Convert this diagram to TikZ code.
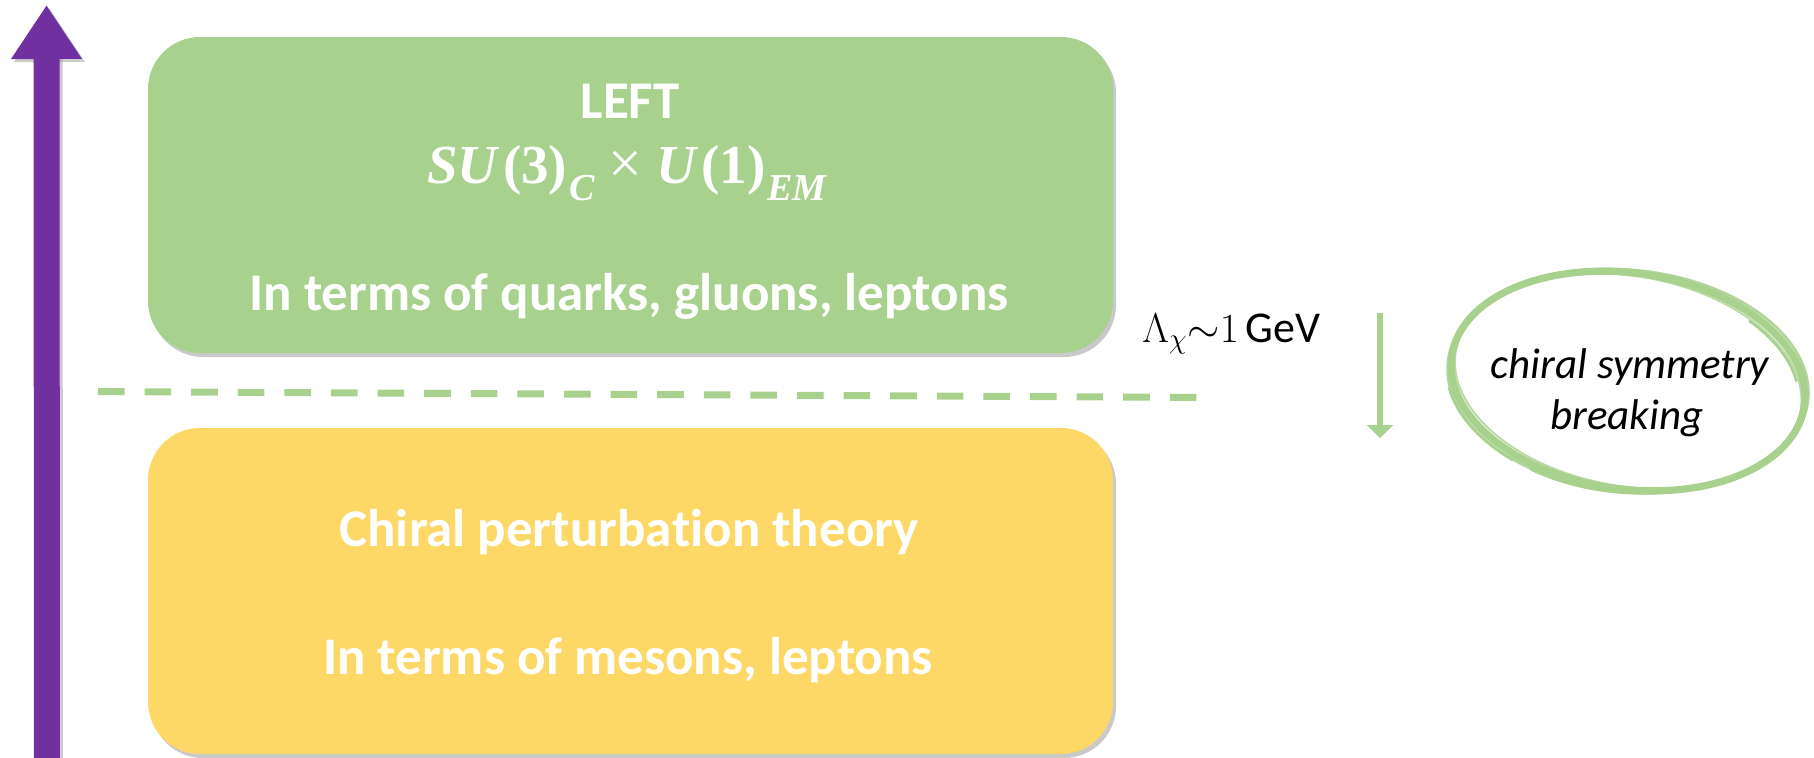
\documentclass[tikz,border=0pt]{standalone}
\usepackage{amsmath,graphicx}
\usepackage[no-math]{fontspec}
\setmainfont{Carlito}[Ligatures=NoCommon]
\newfontfamily\mserif{Liberation Serif}
\usetikzlibrary{arrows.meta,shadows}
\definecolor{boxgreen}{HTML}{A9D18E}
\definecolor{boxyellow}{HTML}{FDD866}
\definecolor{axispurple}{HTML}{7030A0}
\newcommand{\msub}[1]{\raisebox{-0.32em}{\fontsize{19}{21}\selectfont\itshape #1}}
\tikzset{
  panel/.style={rounded corners=26pt, minimum width=482.5pt, inner sep=0pt, draw=none,
    drop shadow={shadow xshift=1.5pt, shadow yshift=-2pt, opacity=0.3, fill=black!70}},
  wtxt/.style={text=white, font=\fontsize{26.5}{30}\selectfont\bfseries, anchor=base, inner sep=0pt},
  brush/.style={draw=boxgreen, line cap=round},
}
\begin{document}
\begin{tikzpicture}[x=0.5pt,y=-0.5pt]
\useasboundingbox (0,0) rectangle (1814,757);

% vertical axis arrow
\coordinate (axisbot) at (47,770);
\coordinate (axistop) at (46.5,5);
\coordinate (axisbotS) at (50,773);
\coordinate (axistopS) at (49.5,8);
\draw[black!40, opacity=0.5, line width=13pt, -{Triangle[width=33.5pt,length=27pt]}] (axisbotS) -- (axistopS);
\draw[axispurple, line width=13pt, -{Triangle[width=33.5pt,length=27pt]}] (axisbot) -- (axistop);

% boxes
\node[panel, fill=boxgreen, minimum height=158pt] (top) at (630.5,195) {};
\node[panel, fill=boxyellow, minimum height=163pt] (bot) at (630.5,591) {};

% texts in boxes
\node[wtxt] (lefttxt) at (630,118) {LEFT};
\node[text=white, anchor=base, inner sep=0pt, font=\mserif\bfseries\fontsize{27.5}{31}\selectfont] (group) at (627,183)
  {\textit{SU}\kern1.5pt(3)\kern1pt\msub{C}\hspace{7pt}{\fontsize{30}{31}\selectfont\mdseries ×}\hspace{7pt}\textit{U}\kern1.5pt(1)\kern1pt\msub{EM}};
\node[wtxt] (quarks) at (629,310) {In terms of quarks, gluons, leptons};
\node[wtxt] (chpt) at (629,546) {Chiral perturba\kern0pt tion theory};
\node[wtxt] (mesons) at (628,674) {In terms of mesons, leptons};

% dashed separator
\coordinate (dl1) at (98,391.5);
\coordinate (dl2) at (1198,397.5);
\draw[boxgreen, line width=3.5pt, dash pattern=on 13.3pt off 10pt] (dl1) -- (dl2);

% scale label and arrow
\node[anchor=base west, inner sep=0pt, font=\huge] (scale) at (1142,342)
  {$\Lambda_\chi{\sim}1$\,{\fontsize{22}{25}\selectfont GeV}};
\coordinate (ga1) at (1380,313);
\coordinate (ga2) at (1380,438);
\draw[boxgreen, line width=3pt, -{Triangle[width=13pt,length=6.5pt]}] (ga1) -- (ga2);

% hand-drawn ellipse
\coordinate (ec) at (1628,381);
\draw[brush, line width=3.6pt, rotate around={-8:(ec)}] (ec) ellipse [x radius=89pt, y radius=54pt];
\draw[brush, line width=1.4pt, opacity=0.9, rotate around={-6:(ec)}] (ec) ellipse [x radius=90.5pt, y radius=55.5pt];
\draw[brush, line width=1pt, opacity=0.8, rotate around={-10:(ec)}] (ec) ellipse [x radius=87.5pt, y radius=52.5pt];
\draw[brush, line width=1.2pt, rotate around={-9:(ec)}] (ec) ++(15:86pt and 51pt) arc[start angle=15, end angle=50, x radius=86pt, y radius=51pt];
\draw[brush, line width=1.2pt, rotate around={-7:(ec)}] (ec) ++(195:91.5pt and 56.5pt) arc[start angle=195, end angle=235, x radius=91.5pt, y radius=56.5pt];
\draw[brush, line width=2pt, rotate around={-5:(ec)}] (ec) ++(240:88pt and 55.5pt) arc[start angle=240, end angle=290, x radius=88pt, y radius=55.5pt];

\node[anchor=base, inner sep=0pt, font=\fontsize{21.5}{24}\selectfont\itshape] (cs1) at (1630,378) {chiral symmetry};
\node[anchor=base, inner sep=0pt, font=\fontsize{21.5}{24}\selectfont\itshape] (cs2) at (1627,429) {breaking};
\end{tikzpicture}
\end{document}
